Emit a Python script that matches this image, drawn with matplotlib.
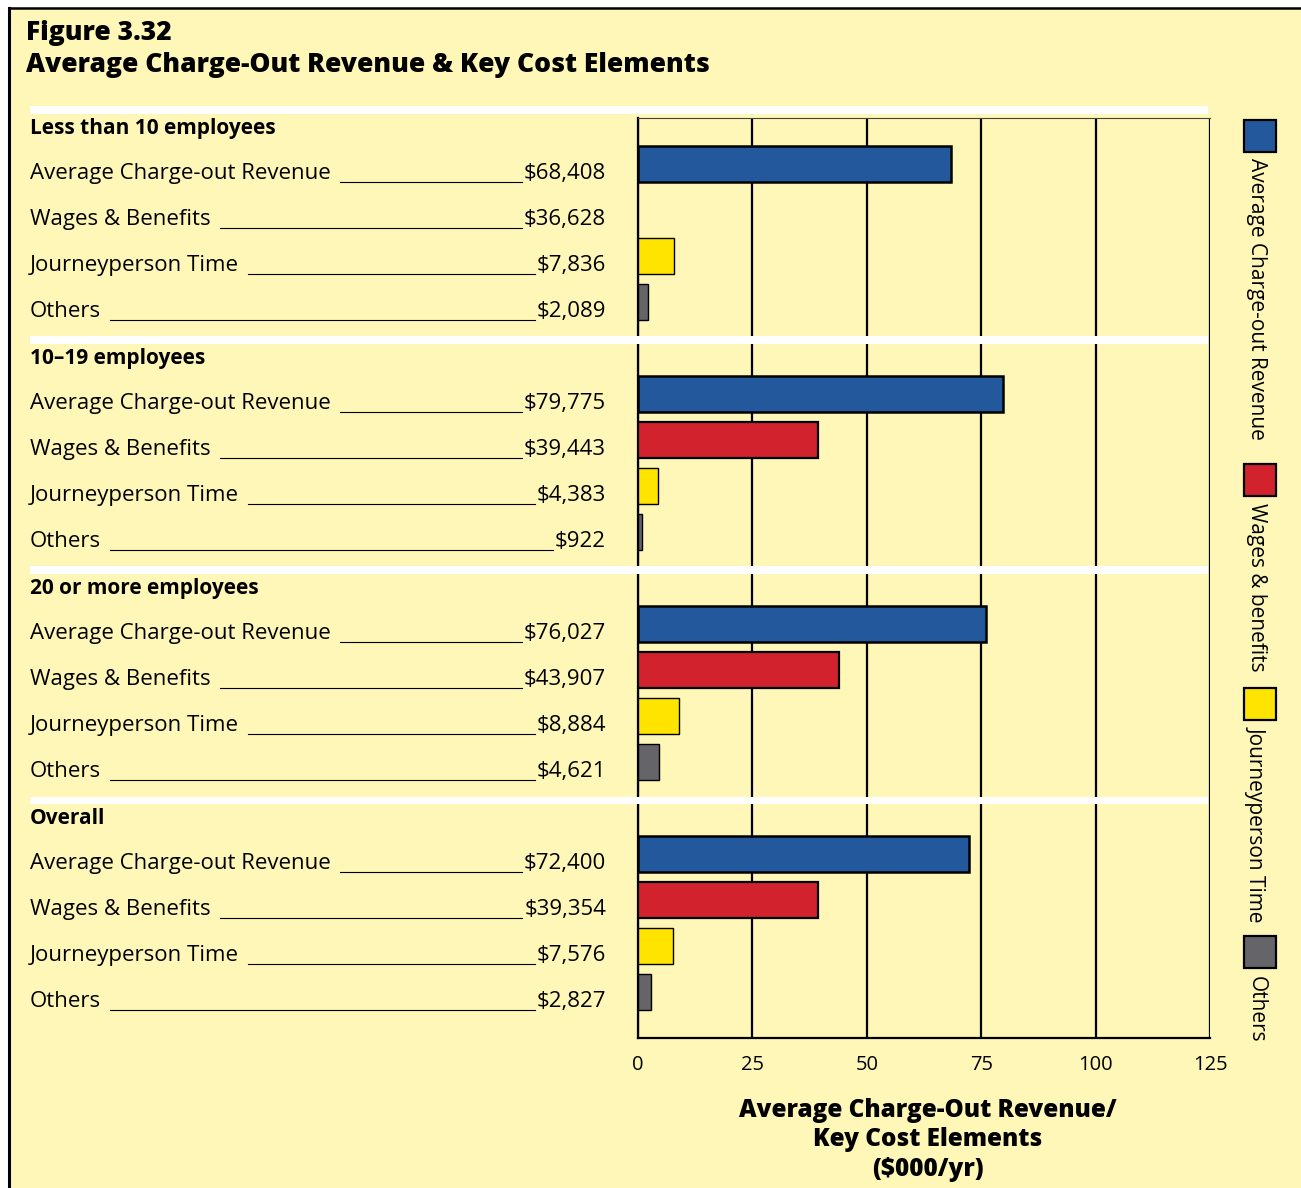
import numpy as np
import matplotlib
matplotlib.use('Agg')
import matplotlib.pyplot as plt
from matplotlib.patches import Rectangle
from matplotlib.lines import Line2D
from matplotlib.transforms import blended_transform_factory

# dados
grupos = ['Less than 10 employees', '10–19 employees', '20 or more employees', 'Overall']
itens = ['Average Charge-out Revenue', 'Wages & Benefits', 'Journeyperson Time', 'Others']
receita = [68408, 79775, 76027, 72400]
salarios = [36628, 39443, 43907, 39354]
jornada = [7836, 4383, 8884, 7576]
outros = [2089, 922, 4621, 2827]
salarios_barra = [False, True, True, True]   # a figura original nao mostra a barra do 1o grupo
legenda = ['Average Charge-out Revenue', 'Wages & benefits', 'Journeyperson Time', 'Others']
cores = ['#23599c', '#d2222d', '#ffe400', '#646469']
ticks = [0, 25, 50, 75, 100, 125]

plt.rcParams['font.family'] = ['Open Sans', 'DejaVu Sans']

W, H = 1301, 1188
fundo = '#fff7b7'

def fx(x):
    return x / W

def fy(y):
    return 1 - y / H

fig = plt.figure(figsize=(W / 100, H / 100), dpi=100, facecolor='white')

# fundo amarelo com borda
fig.add_artist(Rectangle((fx(9), 0), 1, fy(8), transform=fig.transFigure,
                         facecolor=fundo, edgecolor='none', zorder=-10))
fig.add_artist(Line2D([fx(9), 1], [fy(8), fy(8)], color='black', lw=1.8, zorder=-9))
fig.add_artist(Line2D([fx(9), fx(9)], [0, fy(8)], color='black', lw=2.2, zorder=-9))

ax = fig.add_axes([fx(638), fy(1038), fx(1210) - fx(638), fy(118) - fy(1038)])
ax.set_facecolor('none')
ax.set_xlim(0, 125)
ax.set_ylim(20, 0)
ax.set_xticks(ticks)
ax.set_xticklabels([str(t) for t in ticks], fontsize=14.5)
ax.set_yticks([])
ax.tick_params(axis='x', length=0, pad=12)
ax.grid(axis='x', color='black', lw=1.6, zorder=0)
ax.set_axisbelow(True)
ax.spines['right'].set_visible(False)
ax.spines['top'].set_color('#444444')
ax.spines['top'].set_linewidth(0.8)
ax.spines['left'].set_linewidth(1.6)
ax.spines['bottom'].set_linewidth(1.6)

series = [receita, salarios, jornada, outros]
larg = [1.8, 1.6, 1.0, 1.0]
for g in range(4):
    for i in range(4):
        if i == 1 and not salarios_barra[g]:
            continue
        y = 5 * g + 1 + i
        ax.barh(y, series[i][g] / 1000, height=0.8, color=cores[i],
                edgecolor='black', lw=larg[i], zorder=3)

tr = blended_transform_factory(fig.transFigure, ax.transData)

# faixas brancas entre grupos
for g in range(4):
    fig.add_artist(Rectangle((fx(30), 5 * g - 0.08), fx(1208) - fx(30), -0.17,
                             transform=tr, facecolor='white', edgecolor='none', zorder=5))

# rotulos
rotulos = []
for g in range(4):
    fig.text(fx(30), 5 * g + 0.35, grupos[g], transform=tr, fontsize=15,
             fontweight='bold', va='baseline', ha='left')
    for i in range(4):
        y = 5 * g + 1 + i + 0.33
        t1 = fig.text(fx(30), y, itens[i], transform=tr, fontsize=16,
                      va='baseline', ha='left')
        t2 = fig.text(fx(606), y, '${:,}'.format(series[i][g]), transform=tr,
                      fontsize=16, va='baseline', ha='right')
        rotulos.append((t1, t2, y))

fig.canvas.draw()
r = fig.canvas.get_renderer()
inv = fig.transFigure.inverted()
for t1, t2, y in rotulos:
    b1 = t1.get_window_extent(r)
    b2 = t2.get_window_extent(r)
    x0 = inv.transform((b1.x1 + 9, 0))[0]
    x1 = inv.transform((b2.x0 - 2, 0))[0]
    yb = tr.transform((0, y))[1] - 2.5
    yf = inv.transform((0, yb))[1]
    fig.add_artist(Line2D([x0, x1], [yf, yf], color='black', lw=0.8))

# legenda vertical
topo_q = [120, 464, 688, 936]
topo_t = [158, 503, 726, 976]
for k in range(4):
    fig.add_artist(Rectangle((fx(1244), fy(topo_q[k] + 32)), fx(32), 32 / H,
                             transform=fig.transFigure, facecolor=cores[k],
                             edgecolor='black', lw=1.6))
    fig.text(fx(1256), fy(topo_t[k]), legenda[k], rotation=-90, fontsize=15,
             ha='center', va='top')

# titulos
fig.text(fx(26), fy(40), 'Figure 3.32', fontsize=19, fontweight=800, va='baseline')
fig.text(fx(26), fy(72), 'Average Charge-Out Revenue & Key Cost Elements', fontsize=19,
         fontweight=800, va='baseline')

fig.text(fx(928), fy(1140), 'Average Charge-Out Revenue/\nKey Cost Elements\n($000/yr)',
         fontsize=17.5, fontweight=800, ha='center', va='center', linespacing=1.22)

fig.savefig('out.png', dpi=100, facecolor='white')
